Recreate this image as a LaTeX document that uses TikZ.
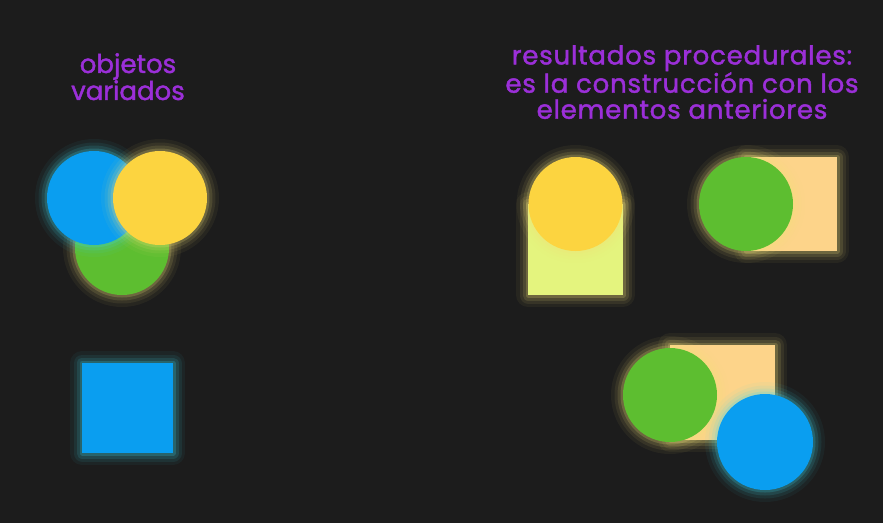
\documentclass[tikz,border=0pt]{standalone}
\usepackage{fontspec}
\setmainfont{Poppins}
\newfontfamily\capfont{Poppins}[FakeBold=1.6]
\newfontfamily\capwide{Poppins}[FakeBold=1.6, LetterSpace=3]
\definecolor{bgdark}{HTML}{1C1C1C}
\definecolor{skyblue}{HTML}{0A9EF0}
\definecolor{sunyellow}{HTML}{FCD440}
\definecolor{leafgreen}{HTML}{5DBE30}
\definecolor{limepale}{HTML}{E4F47E}
\definecolor{peach}{HTML}{FDD48A}
\definecolor{txtpurple}{HTML}{9B2FD8}
\definecolor{glowcyan}{HTML}{40D8EC}
\definecolor{glowyellow}{HTML}{F4E27A}

\begin{document}
\begin{tikzpicture}[x=1pt, y=-1pt,
    dot/.style={circle, inner sep=0pt, minimum size=94pt, fill=#1},
    tile/.style={rectangle, inner sep=0pt, fill=#1},
    halo/.style={preaction={draw=#1, line join=round, line width=24pt, opacity=.05},
                 preaction={draw=#1, line join=round, line width=17pt, opacity=.08},
                 preaction={draw=#1, line join=round, line width=11pt, opacity=.12},
                 preaction={draw=#1, line join=round, line width=5pt, opacity=.2}},
    caption/.style={text=txtpurple, align=center, inner sep=0pt,
                    font=\capfont\fontsize{26}{27}\selectfont}
]
    \fill[bgdark] (0,0) rectangle (883,523);

    % objetos variados
    \node[caption, anchor=north] (lefttitle) at (128,53) {objetos\\variados};
    \node[dot=leafgreen, halo=glowyellow] (greenA) at (122,248) {};
    \node[dot=skyblue, halo=glowcyan] (blueA) at (94,198) {};
    \node[dot=sunyellow, halo=glowyellow] (yellowA) at (160,198) {};
    \node[tile=skyblue, halo=glowcyan, minimum width=91pt, minimum height=90pt] (square) at (127.5,408) {};

    % resultados procedurales
    \node[caption, anchor=north, font=\capwide\fontsize{26}{26}\selectfont] (righttitle) at (682,45)
        {resultados procedurales:\\es la construcción con los\\elementos anteriores};

    \node[tile=limepale, halo=glowyellow, minimum width=95pt, minimum height=91pt] (limebox) at (575.5,249.5) {};
    \node[dot=sunyellow, halo=glowyellow] (yellowB) at (575.5,204) {};

    \node[tile=peach, halo=glowyellow, minimum width=91pt, minimum height=94pt] (peachA) at (791.5,204) {};
    \node[dot=leafgreen, halo=glowyellow] (greenB) at (746,204) {};

    \node[tile=peach, halo=glowyellow, minimum width=105pt, minimum height=95pt] (peachB) at (722.5,392.5) {};
    \node[dot=leafgreen, halo=glowyellow] (greenC) at (670,395) {};
    \node[dot=skyblue, halo=glowcyan, minimum size=96pt] (blueB) at (765,442) {};
\end{tikzpicture}
\end{document}
